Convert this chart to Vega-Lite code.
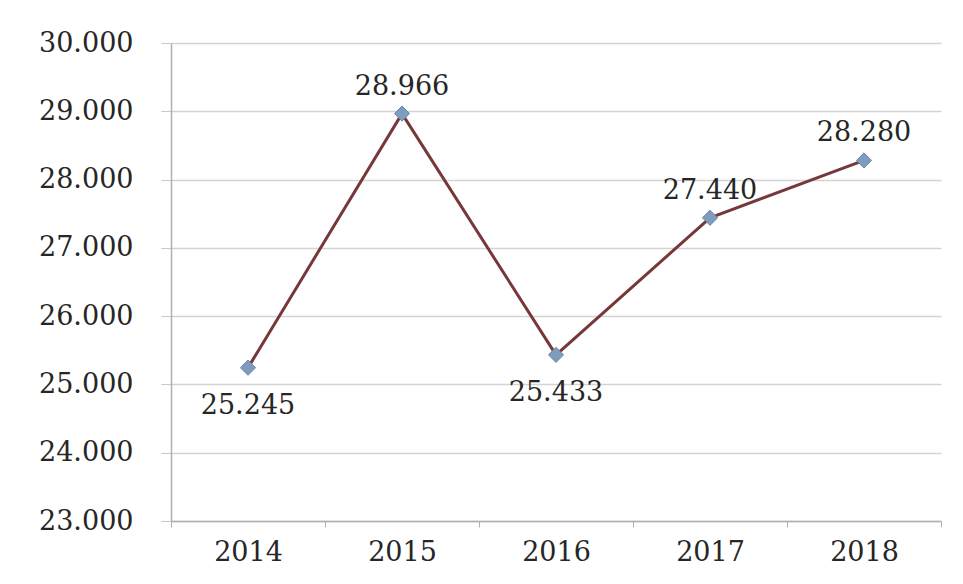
{
  "$schema": "https://vega.github.io/schema/vega-lite/v6.json",
  "width": 770,
  "height": 478,
  "autosize": {"type": "none"},
  "padding": {"left": 171, "top": 43, "right": 22, "bottom": 63},
  "background": "white",
  "config": {
    "locale": {"number": {"decimal": ",", "thousands": ".", "grouping": [3], "currency": ["", ""]}},
    "view": {"stroke": null},
    "font": "DejaVu Serif"
  },
  "data": {
    "values": [
      {"year": "2014", "value": 25245},
      {"year": "2015", "value": 28966},
      {"year": "2016", "value": 25433},
      {"year": "2017", "value": 27440},
      {"year": "2018", "value": 28280}
    ]
  },
  "encoding": {
    "x": {
      "field": "year", "type": "ordinal",
      "scale": {"type": "band", "paddingInner": 0, "paddingOuter": 0},
      "axis": {
        "title": null, "labelAngle": 0, "labelFont": "DejaVu Serif", "labelFontSize": 27,
        "labelColor": "#262626", "labelPadding": 12, "tickBand": "extent", "tickSize": 6,
        "tickColor": "#b0b0b0", "domainColor": "#b0b0b0", "domainWidth": 1.5, "grid": false
      }
    },
    "y": {
      "field": "value", "type": "quantitative",
      "scale": {"domain": [23000, 30000], "nice": false, "zero": false},
      "axis": {
        "title": null, "values": [23000, 24000, 25000, 26000, 27000, 28000, 29000, 30000],
        "format": ",d", "labelFont": "DejaVu Serif", "labelFontSize": 27, "labelColor": "#262626",
        "labelPadding": 28, "tickSize": 10, "tickColor": "#c8c8c8", "gridColor": "#d4d4d4",
        "gridWidth": 1.5, "domainColor": "#b0b0b0", "domainWidth": 1.5
      }
    }
  },
  "layer": [
    {"mark": {"type": "line", "color": "#76383a", "strokeWidth": 3}},
    {"mark": {"type": "point", "shape": "diamond", "filled": true, "size": 230, "color": "#7f9cbd", "stroke": "#6a88aa", "strokeWidth": 1, "opacity": 1}},
    {
      "transform": [{"filter": "datum.year == '2014' || datum.year == '2016'"}],
      "mark": {"type": "text", "dy": 38, "fontSize": 27, "font": "DejaVu Serif", "color": "#262626"},
      "encoding": {"text": {"field": "value", "type": "quantitative", "format": ",d"}}
    },
    {
      "transform": [{"filter": "datum.year != '2014' && datum.year != '2016'"}],
      "mark": {"type": "text", "dy": -27, "fontSize": 27, "font": "DejaVu Serif", "color": "#262626"},
      "encoding": {"text": {"field": "value", "type": "quantitative", "format": ",d"}}
    }
  ]
}
